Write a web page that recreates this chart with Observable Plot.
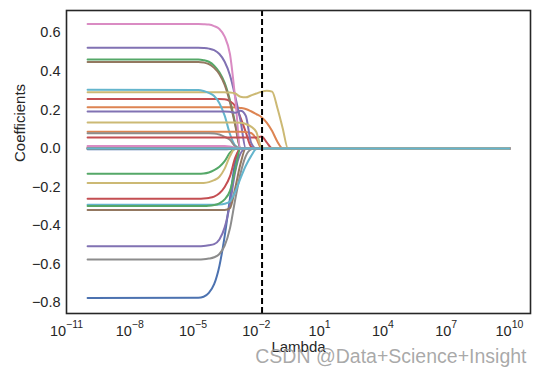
<!DOCTYPE html>
<html>
<head>
<meta charset="utf-8">
<script src="https://cdn.jsdelivr.net/npm/d3@7"></script>
<script src="https://cdn.jsdelivr.net/npm/@observablehq/plot@0.6"></script>
<style>
  html, body { margin: 0; padding: 0; background: white; }
  svg g[aria-label="y-axis tick label"], svg g[aria-label="y-axis tick label"] text { font-size: 14.5px !important; }
  svg g[aria-label="x-axis tick label"], svg g[aria-label="x-axis tick label"] text { font-size: 14.5px !important; }
  svg g[aria-label="x-axis tick label"] tspan.sup { font-size: 10.5px !important; }
</style>
</head>
<body>
<div id="chart"></div>
<script>
// log10(lambda) sample grid
const logLambda = [-10, -4.75, -4.5, -4.25, -4, -3.75, -3.5, -3.25, -3, -2.75, -2.5, -2.25, -2, -1.75, -1.5, -1.25, -1, -0.75, -0.5, -0.25, 10];

// seaborn "deep" palette
const palette = ["#4C72B0", "#DD8452", "#55A868", "#C44E52", "#8172B3", "#937860", "#DA8BC3", "#8C8C8C", "#CCB974", "#64B5CD"];

// coefficient paths, one per feature
const coefs = [
  [-0.776,-0.775,-0.77,-0.75,-0.705,-0.61,-0.455,-0.26,-0.07,0,0,0,0,0,0,0,0,0,0,0,0],
  [0.214,0.214,0.214,0.214,0.214,0.214,0.214,0.214,0.213,0.21,0.205,0.193,0.178,0.162,0.133,0.09,0.035,0,0,0,0],
  [0.461,0.461,0.458,0.45,0.43,0.395,0.34,0.25,0.13,0,0,0,0,0,0,0,0,0,0,0,0],
  [0.256,0.256,0.256,0.256,0.256,0.256,0.255,0.245,0.22,0.16,0.085,0.01,0,0,0,0,0,0,0,0,0],
  [0.522,0.522,0.521,0.518,0.51,0.49,0.45,0.38,0.27,0.145,0,0,0,0,0,0,0,0,0,0,0],
  [0.449,0.449,0.446,0.438,0.418,0.385,0.33,0.24,0.12,0,0,0,0,0,0,0,0,0,0,0,0],
  [0.646,0.646,0.645,0.643,0.635,0.62,0.58,0.49,0.26,0,0,0,0,0,0,0,0,0,0,0,0],
  [-0.577,-0.577,-0.576,-0.572,-0.565,-0.548,-0.505,-0.415,-0.265,-0.13,-0.04,-0.005,0,0,0,0,0,0,0,0,0],
  [0.292,0.292,0.292,0.292,0.292,0.292,0.291,0.29,0.285,0.268,0.265,0.275,0.285,0.295,0.3,0.295,0.21,0.105,0,0,0],
  [0.304,0.303,0.298,0.288,0.272,0.235,0.17,0.075,0.015,0,0,0,0,0,0,0,0,0,0,0,0],
  [0.002,0.002,0.002,0.002,0.002,0.002,0.002,0.001,0,0,0,0,0,0,0,0,0,0,0,0,0],
  [0.086,0.086,0.086,0.086,0.086,0.086,0.086,0.086,0.086,0.086,0.085,0.08,0.05,0,0,0,0,0,0,0,0],
  [-0.131,-0.131,-0.13,-0.125,-0.113,-0.095,-0.066,-0.022,-0.003,0,0,0,0,0,0,0,0,0,0,0,0],
  [-0.261,-0.261,-0.26,-0.257,-0.25,-0.233,-0.2,-0.145,-0.048,0,0,0,0,0,0,0,0,0,0,0,0],
  [-0.508,-0.508,-0.507,-0.503,-0.497,-0.473,-0.41,-0.29,-0.12,-0.027,0,0,0,0,0,0,0,0,0,0,0],
  [-0.32,-0.32,-0.32,-0.32,-0.32,-0.32,-0.32,-0.31,-0.205,-0.08,0,0,0,0,0,0,0,0,0,0,0],
  [0.007,0.007,0.007,0.007,0.007,0.007,0.007,0.005,0.002,0,0,0,0,0,0,0,0,0,0,0,0],
  [0.079,0.079,0.079,0.079,0.078,0.072,0.06,0.045,0.01,0,0,0,0,0,0,0,0,0,0,0,0],
  [-0.18,-0.18,-0.179,-0.175,-0.165,-0.147,-0.105,-0.04,0,0,0,0,0,0,0,0,0,0,0,0,0],
  [-0.292,-0.292,-0.292,-0.292,-0.292,-0.291,-0.287,-0.275,-0.225,-0.155,-0.09,-0.04,-0.003,0,0,0,0,0,0,0,0],
  [-0.004,-0.004,-0.004,-0.004,-0.004,-0.004,-0.004,-0.003,-0.001,0,0,0,0,0,0,0,0,0,0,0,0],
  [0.003,0.003,0.003,0.003,0.003,0.003,0.003,0.002,0.001,0,0,0,0,0,0,0,0,0,0,0,0],
  [-0.299,-0.299,-0.299,-0.298,-0.294,-0.285,-0.265,-0.22,-0.11,0,0,0,0,0,0,0,0,0,0,0,0],
  [0.057,0.057,0.057,0.057,0.057,0.057,0.057,0.057,0.057,0.057,0.057,0.057,0.057,0.062,0.03,0,0,0,0,0,0],
  [0.192,0.192,0.192,0.192,0.192,0.192,0.192,0.19,0.185,0.195,0.17,0.03,0,0,0,0,0,0,0,0,0],
  [-0.002,-0.002,-0.002,-0.002,-0.002,-0.002,-0.002,-0.001,0,0,0,0,0,0,0,0,0,0,0,0,0],
  [0.012,0.012,0.012,0.012,0.012,0.012,0.012,0.01,0.004,0,0,0,0,0,0,0,0,0,0,0,0],
  [0.001,0.001,0.001,0.001,0.001,0.001,0.001,0.001,0,0,0,0,0,0,0,0,0,0,0,0,0],
  [0.135,0.135,0.135,0.135,0.135,0.135,0.135,0.135,0.135,0.133,0.127,0.113,0.085,0.005,0,0,0,0,0,0,0],
  [-0.001,-0.001,-0.001,-0.001,-0.001,-0.001,-0.001,0,0,0,0,0,0,0,0,0,0,0,0,0,0]
];

const xTicks = [1e-11, 1e-8, 1e-5, 1e-2, 1e1, 1e4, 1e7, 1e10];
const yTicks = [-0.8, -0.6, -0.4, -0.2, 0.0, 0.2, 0.4, 0.6];
const chosenLambda = [0.0187];
const xLabel = ["Lambda"];
const yLabel = ["Coefficients"];
const watermark = ["CSDN @Data+Science+Insight"];

const lineMarks = coefs.map((c, i) =>
  Plot.line(c.map((v, j) => ({lambda: Math.pow(10, logLambda[j]), coef: v})), {
    x: "lambda", y: "coef", stroke: palette[i % palette.length],
    strokeWidth: 2, curve: "monotone-x"
  })
);

const chart = Plot.plot({
  width: 540,
  height: 370,
  marginLeft: 66,
  marginRight: 10,
  marginTop: 10,
  marginBottom: 57,
  style: {fontFamily: "'Liberation Sans', Arial, sans-serif", fontSize: "14px", background: "white", color: "#262626"},
  x: {type: "log", domain: [1e-11, 1e11]},
  y: {domain: [-0.857, 0.716]},
  marks: [
    Plot.axisX(xTicks, {tickSize: 0, tickPadding: 12, label: null,
      tickFormat: d => String(Math.round(Math.log10(d)))}),
    Plot.axisY(yTicks, {tickSize: 0, tickPadding: 6, label: null,
      tickFormat: d3.format(".1f")}),
    ...lineMarks,
    Plot.ruleX(chosenLambda, {stroke: "black", strokeWidth: 2, strokeDasharray: "6,3"}),
    Plot.frame({stroke: "#262626", strokeWidth: 1.6}),
    Plot.text(xLabel, {frameAnchor: "bottom", dy: 38, fontSize: 15, fill: "#262626"}),
    Plot.text(yLabel, {frameAnchor: "left", dx: -46, rotate: -90, fontSize: 15, fill: "#262626"}),
    Plot.text(watermark, {frameAnchor: "bottom-right", dx: -4, dy: 43, textAnchor: "end", lineAnchor: "middle",
      fontSize: 19.5, fill: "#9a9a9a", fillOpacity: 0.85})
  ]
});

// render exponent tick labels as 10 with superscript
chart.querySelectorAll('[aria-label="x-axis tick label"] text').forEach(t => {
  const e = t.textContent.replace("-", "\u2212");
  t.textContent = "";
  const ns = "http://www.w3.org/2000/svg";
  const base = document.createElementNS(ns, "tspan");
  base.textContent = "10";
  const sup = document.createElementNS(ns, "tspan");
  sup.setAttribute("class", "sup");
  sup.textContent = e;
  sup.setAttribute("dy", "-0.7em");
  t.appendChild(base);
  t.appendChild(sup);
});

document.getElementById("chart").appendChild(chart);
</script>
</body>
</html>
